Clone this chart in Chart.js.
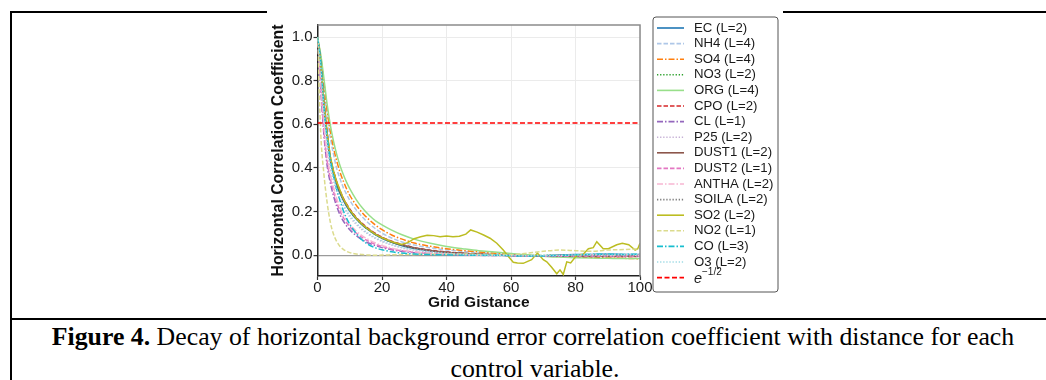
<!DOCTYPE html>
<html>
<head>
<meta charset="utf-8">
<script src="https://cdn.jsdelivr.net/npm/chart.js"></script>
<style>
  body { margin: 0; background: #fff; width: 1046px; height: 380px; overflow: hidden; position: relative;
         font-family: "Liberation Serif", "Times New Roman", serif; }
  .rule { position: absolute; background: #000; }
  #wrap { position: absolute; left: 267px; top: 10px; width: 516px; height: 308px; background: #fff; z-index: 2; }
  #caption { position: absolute; left: 10px; width: 1046px; top: 321px; font-size: 25.8px; line-height: 32px;
             text-align: center; color: #000; white-space: nowrap; }
  #caption .l2 { position: relative; left: 2px; }
</style>
</head>
<body>
<div class="rule" style="left:10px;top:11px;width:1036px;height:2px"></div>
<div class="rule" style="left:10px;top:11px;width:2px;height:369px"></div>
<div class="rule" style="left:10px;top:318px;width:1036px;height:2px"></div>
<div id="wrap"><canvas id="corr" width="516" height="308"></canvas></div>
<div id="caption"><b>Figure 4.</b> Decay of horizontal background error correlation coefficient with distance for each<br><span class="l2">control variable.</span></div>

<script>
var distance = [0, 1, 2, 3, 4, 5, 6, 7, 8, 9, 10, 12, 14, 16, 18, 20, 23, 26, 30,
                35, 40, 45, 50, 55, 60, 65, 70, 75, 80, 85, 90, 95, 100];

var EC    = [1.0, 0.87, 0.68, 0.54, 0.43, 0.37, 0.32, 0.283, 0.252, 0.225, 0.203, 0.166, 0.137, 0.114, 0.094, 0.078, 0.059, 0.045, 0.031,
             0.02, 0.013, 0.008, 0.005, 0.002, 0.0, -0.002, -0.002, 0.001, 0.003, 0.004, 0.005, 0.004, 0.004];
var NH4   = [1.0, 0.9, 0.77, 0.63, 0.535, 0.46, 0.395, 0.35, 0.31, 0.28, 0.252, 0.208, 0.174, 0.145, 0.121, 0.101, 0.079, 0.062, 0.047,
             0.034, 0.025, 0.018, 0.012, 0.007, 0.003, 0.001, -0.002, -0.003, -0.002, -0.004, -0.003, -0.002, -0.004];
var SO4   = [1.0, 0.91, 0.79, 0.66, 0.565, 0.49, 0.43, 0.38, 0.34, 0.305, 0.275, 0.23, 0.193, 0.163, 0.138, 0.117, 0.093, 0.075, 0.056,
             0.041, 0.03, 0.022, 0.015, 0.009, 0.004, 0.0, -0.004, -0.006, -0.008, -0.01, -0.012, -0.014, -0.016];
var NO3   = [1.0, 0.87, 0.69, 0.55, 0.44, 0.375, 0.325, 0.287, 0.255, 0.228, 0.205, 0.168, 0.139, 0.115, 0.095, 0.079, 0.06, 0.046, 0.032,
             0.021, 0.013, 0.008, 0.004, 0.001, -0.001, -0.002, -0.001, 0.001, -0.002, 0.001, 0.0, 0.002, 0.001];
var ORG   = [1.0, 0.92, 0.81, 0.69, 0.595, 0.52, 0.46, 0.41, 0.37, 0.335, 0.305, 0.255, 0.215, 0.183, 0.158, 0.139, 0.115, 0.095, 0.074,
             0.055, 0.04, 0.03, 0.021, 0.015, 0.008, 0.002, -0.004, -0.008, -0.011, -0.013, -0.014, -0.015, -0.015];
var CPO   = [1.0, 0.88, 0.7, 0.56, 0.45, 0.385, 0.335, 0.295, 0.262, 0.235, 0.212, 0.174, 0.144, 0.12, 0.1, 0.083, 0.064, 0.05, 0.035,
             0.023, 0.015, 0.009, 0.005, 0.002, -0.001, -0.003, -0.004, -0.004, -0.005, -0.006, -0.005, -0.006, -0.005];
var CL    = [1.0, 0.76, 0.55, 0.41, 0.33, 0.27, 0.222, 0.185, 0.157, 0.135, 0.117, 0.09, 0.07, 0.055, 0.044, 0.035, 0.025, 0.018, 0.012,
             0.007, 0.004, 0.002, 0.0, -0.001, -0.002, -0.003, -0.004, -0.003, -0.002, -0.003, -0.002, -0.001, -0.002];
var P25   = [1.0, 0.85, 0.65, 0.5, 0.4, 0.34, 0.29, 0.255, 0.225, 0.198, 0.176, 0.142, 0.115, 0.094, 0.077, 0.063, 0.047, 0.035, 0.024,
             0.015, 0.009, 0.005, 0.003, 0.001, 0.0, -0.002, -0.003, -0.002, -0.001, 0.0, 0.001, 0.0, 0.001];
var DUST1 = [1.0, 0.88, 0.7, 0.555, 0.445, 0.38, 0.33, 0.29, 0.258, 0.231, 0.208, 0.171, 0.141, 0.117, 0.097, 0.081, 0.062, 0.048, 0.034,
             0.022, 0.014, 0.009, 0.005, 0.002, 0.0, -0.003, -0.004, -0.003, -0.004, -0.003, -0.004, -0.003, -0.004];
var DUST2 = [1.0, 0.78, 0.57, 0.43, 0.35, 0.29, 0.24, 0.202, 0.173, 0.15, 0.131, 0.102, 0.08, 0.063, 0.05, 0.04, 0.029, 0.021, 0.014,
             0.008, 0.005, 0.003, 0.001, 0.0, -0.001, -0.003, -0.004, -0.005, -0.004, -0.005, -0.004, -0.005, -0.004];
var ANTHA = [1.0, 0.8, 0.6, 0.46, 0.37, 0.31, 0.258, 0.218, 0.187, 0.162, 0.142, 0.111, 0.088, 0.07, 0.056, 0.045, 0.033, 0.024, 0.016,
             0.01, 0.006, 0.003, 0.001, 0.0, -0.001, -0.002, -0.002, -0.001, 0.0, 0.001, 0.0, 0.001, 0.0];
var SOILA = [1.0, 0.875, 0.69, 0.55, 0.44, 0.375, 0.327, 0.289, 0.257, 0.23, 0.207, 0.17, 0.14, 0.116, 0.096, 0.08, 0.061, 0.047, 0.033,
             0.021, 0.013, 0.008, 0.004, 0.001, -0.001, -0.002, -0.003, -0.002, -0.003, -0.002, -0.003, -0.002, -0.003];
var NO2   = [1.0, 0.56, 0.37, 0.24, 0.15, 0.095, 0.062, 0.04, 0.027, 0.018, 0.012, 0.006, 0.003, 0.001, 0.0, 0.001, 0.002, 0.003, 0.004,
             0.005, 0.005, 0.006, 0.004, 0.003, 0.002, 0.01, 0.018, 0.024, 0.021, 0.018, 0.024, 0.026, 0.03];
var CO    = [1.0, 0.89, 0.68, 0.54, 0.44, 0.36, 0.3, 0.25, 0.205, 0.17, 0.142, 0.1, 0.068, 0.047, 0.034, 0.025, 0.016, 0.01, 0.006,
             0.003, 0.002, 0.001, 0.0, 0.0, -0.002, -0.004, -0.003, -0.001, 0.002, 0.004, 0.005, 0.004, 0.005];
var O3    = [1.0, 0.86, 0.66, 0.51, 0.41, 0.35, 0.3, 0.263, 0.232, 0.205, 0.183, 0.148, 0.12, 0.098, 0.08, 0.066, 0.049, 0.036, 0.025,
             0.015, 0.009, 0.005, 0.002, 0.0, -0.001, -0.002, -0.001, 0.0, 0.001, 0.002, 0.001, 0.002, 0.002];

// SO2 is noisy, so it has its own finer set of distances
var so2Distance = [0, 1, 2, 3, 4, 5, 6, 8, 10, 12, 14, 16, 18, 20, 23, 26, 28, 30, 32, 34, 36, 38, 40, 42, 44, 46,
                   47.5, 49.5, 51.5, 53.5, 55.6, 57.6, 59.2, 60.7, 62, 63.8, 66.4, 68.2, 70, 71.1, 72.6, 74.2, 75.2, 76.2,
                   77.3, 78.5, 80.4, 82.4, 84, 85.5, 86.6, 88.6, 90.2, 92.8, 94.5, 96.5, 98.5, 99.3, 100];
var SO2 = [1.0, 0.88, 0.7, 0.56, 0.45, 0.385, 0.335, 0.26, 0.208, 0.17, 0.14, 0.116, 0.096, 0.08, 0.062, 0.05, 0.058, 0.076,
           0.085, 0.092, 0.09, 0.085, 0.088, 0.085, 0.087, 0.097, 0.116, 0.106, 0.093, 0.078, 0.055, 0.024, -0.006, -0.032,
           -0.035, -0.037, -0.02, 0.01, -0.02, -0.03, -0.055, -0.085, -0.067, -0.088, -0.03, -0.035, 0.0, 0.005, 0.03,
           0.035, 0.062, 0.03, 0.03, 0.048, 0.055, 0.048, 0.024, 0.03, 0.055];

var eHalf = 0.6065;   // e^(-1/2) reference level
var eHalfDistance = [0, 100];

var xTicks = [0, 20, 40, 60, 80, 100];
var yTicks = [0.0, 0.2, 0.4, 0.6, 0.8, 1.0];

var names  = ['EC (L=2)', 'NH4 (L=4)', 'SO4 (L=4)', 'NO3 (L=2)', 'ORG (L=4)', 'CPO (L=2)', 'CL (L=1)', 'P25 (L=2)',
              'DUST1 (L=2)', 'DUST2 (L=1)', 'ANTHA (L=2)', 'SOILA (L=2)', 'SO2 (L=2)', 'NO2 (L=1)', 'CO (L=3)', 'O3 (L=2)'];
var values = [EC, NH4, SO4, NO3, ORG, CPO, CL, P25, DUST1, DUST2, ANTHA, SOILA, SO2, NO2, CO, O3];

// styles
var colors = ['#1f77b4', '#aec7e8', '#ff7f0e', '#2ca02c', '#98df8a', '#d62728', '#9467bd', '#c5b0d5',
              '#8c564b', '#e377c2', '#f7b6d2', '#7f7f7f', '#bcbd22', '#dbdb8d', '#17becf', '#9edae5'];
var styles = ['solid', 'dashed', 'dashdot', 'dotted', 'solid', 'dashed', 'dashdot', 'dotted',
              'solid', 'dashed', 'dashdot', 'dotted', 'solid', 'dashed', 'dashdot', 'dotted'];
var dashes = { solid: [], dashed: [4.5, 2], dashdot: [6, 2, 1.5, 2], dotted: [1.3, 1.8] };

function pts(xs, ys) {
  return xs.map(function (x, i) { return { x: x, y: ys[i] }; });
}

var datasets = names.map(function (name, i) {
  var xs = name.indexOf('SO2') === 0 ? so2Distance : distance;
  return {
    label: name,
    data: pts(xs, values[i]),
    borderColor: colors[i],
    borderWidth: 1.5,
    borderDash: dashes[styles[i]],
    pointRadius: 0,
    tension: 0,
    cubicInterpolationMode: name.indexOf('SO2') === 0 ? 'default' : 'monotone',
    order: -i
  };
});
datasets.push({
  label: 'e^-1/2',
  data: pts(eHalfDistance, [eHalf, eHalf]),
  borderColor: '#ff0000',
  borderWidth: 1.5,
  borderDash: [5, 2.5],
  pointRadius: 0,
  order: -20
});

var sans = '"Liberation Sans", Arial, Helvetica, sans-serif';

// grey top/right spines like the matplotlib frame
var frame = {
  id: 'frame',
  afterDatasetsDraw: function (chart) {
    var a = chart.chartArea, c = chart.ctx;
    c.save();
    c.strokeStyle = '#8c8c8c';
    c.lineWidth = 1.5;
    c.beginPath();
    c.moveTo(a.left, a.top);
    c.lineTo(a.right, a.top);
    c.lineTo(a.right, a.bottom);
    c.stroke();
    c.restore();
  }
};

// boxed legend on the right, drawn from the datasets' own styles
var legendBox = {
  id: 'legendBox',
  afterDraw: function (chart) {
    var c = chart.ctx;
    var x0 = 386, y0 = 7, w = 125, h = 275, r = 3;
    c.save();
    c.beginPath();
    c.moveTo(x0 + r, y0);
    c.lineTo(x0 + w - r, y0); c.quadraticCurveTo(x0 + w, y0, x0 + w, y0 + r);
    c.lineTo(x0 + w, y0 + h - r); c.quadraticCurveTo(x0 + w, y0 + h, x0 + w - r, y0 + h);
    c.lineTo(x0 + r, y0 + h); c.quadraticCurveTo(x0, y0 + h, x0, y0 + h - r);
    c.lineTo(x0, y0 + r); c.quadraticCurveTo(x0, y0, x0 + r, y0);
    c.closePath();
    c.fillStyle = '#fff';
    c.fill();
    c.strokeStyle = '#555';
    c.lineWidth = 1;
    c.stroke();

    chart.data.datasets.forEach(function (ds, i) {
      var y = 18 + i * 15.6;
      c.strokeStyle = ds.borderColor;
      c.lineWidth = 1.6;
      c.setLineDash(ds.borderDash || []);
      c.beginPath();
      c.moveTo(390, y);
      c.lineTo(417, y);
      c.stroke();
      c.setLineDash([]);
      c.fillStyle = '#1a1a1a';
      c.textBaseline = 'middle';
      if (ds.label === 'e^-1/2') {
        c.font = 'italic 14.5px ' + sans;
        c.fillText('e', 427, y + 1);
        c.font = '10px ' + sans;
        c.fillText('\u22121/2', 435, y - 5);
      } else {
        c.font = '13.2px ' + sans;
        c.fillText(ds.label, 427, y);
      }
    });
    c.restore();
  }
};

new Chart(document.getElementById('corr'), {
  type: 'line',
  data: { datasets: datasets },
  plugins: [frame, legendBox],
  options: {
    responsive: false,
    animation: false,
    events: [],
    layout: { padding: { left: 0, top: 15, right: 143, bottom: 0 } },
    plugins: { legend: { display: false }, tooltip: { enabled: false } },
    scales: {
      x: {
        type: 'linear',
        min: 0,
        max: 100,
        afterBuildTicks: function (s) { s.ticks = xTicks.map(function (v) { return { value: v }; }); },
        afterFit: function (s) { s.height = 42; },
        ticks: { autoSkip: false, maxRotation: 0, padding: 0, color: '#1a1a1a',
                 font: { family: sans, size: 15, lineHeight: 1 },
                 callback: function (v) { return String(v); } },
        grid: { color: '#ebebeb', lineWidth: 1, tickLength: 4, tickColor: '#333', tickWidth: 1.2 },
        border: { color: '#222', width: 1.5 },
        title: { display: true, text: 'Grid Gistance', color: '#111',
                 font: { family: sans, size: 15.5, weight: 'bold' }, padding: { top: 0, bottom: 6 } }
      },
      y: {
        type: 'linear',
        min: -0.095,
        max: 1.055,
        afterBuildTicks: function (s) { s.ticks = yTicks.map(function (v) { return { value: v }; }); },
        afterFit: function (s) { s.width = 50.5; },
        ticks: { autoSkip: false, padding: 1, color: '#1a1a1a',
                 font: { family: sans, size: 15 },
                 callback: function (v) { return Number(v).toFixed(1); } },
        grid: {
          color: function (c) { return c.tick && c.tick.value === 0 ? '#9a9a9a' : '#ebebeb'; },
          lineWidth: function (c) { return c.tick && c.tick.value === 0 ? 1.3 : 1; },
          tickLength: 4, tickColor: '#333', tickWidth: 1.2
        },
        border: { color: '#222', width: 1.5 },
        title: { display: true, text: 'Horizontal Correlation Coefficient', color: '#111',
                 font: { family: sans, size: 15.8, weight: 'bold' }, padding: { top: 2, bottom: 0 } }
      }
    }
  }
});
</script>
</body>
</html>
